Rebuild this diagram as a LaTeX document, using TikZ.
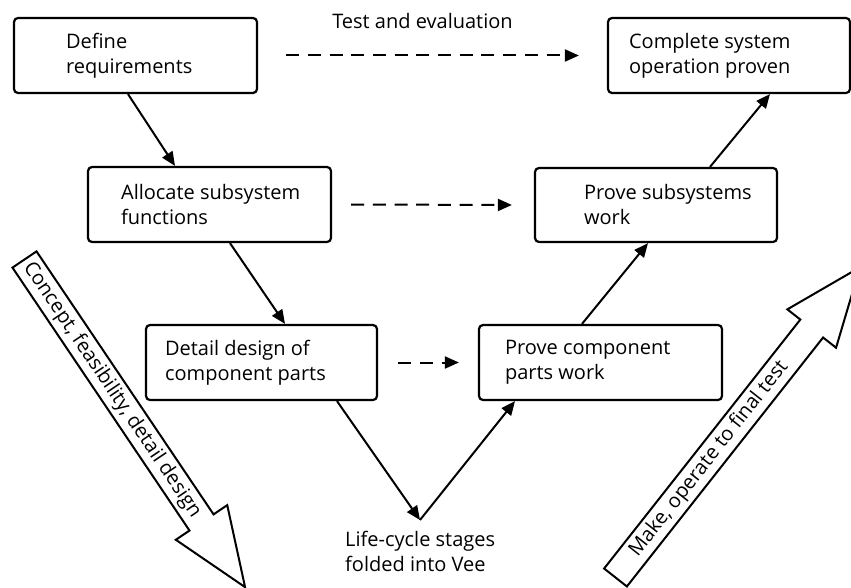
\documentclass[tikz,border=0pt]{standalone}
\usepackage{fontspec}
\setmainfont{Open Sans}
\usetikzlibrary{arrows.meta,calc}

\tikzset{
  stage/.style={draw, line width=2.2pt, rounded corners=4pt, inner sep=0pt},
  label text/.style={align=left, inner sep=0pt, font=\fontsize{20}{25}\selectfont},
  flow/.style={line width=2pt, -{Triangle[length=14pt,width=12pt]}},
  check/.style={flow, dash pattern=on 13pt off 8.7pt},
  block arrow/.style={draw, line width=2pt, line join=miter, fill=white},
}

\begin{document}
\begin{tikzpicture}[x=1pt, y=-1pt]
  \path[use as bounding box] (0,0) rectangle (851,588);
  \clip (0,0) rectangle (851,588);

  % stage boxes
  \node[stage, minimum width=243pt, minimum height=75pt] (def)    at (135.5,55.5) {};
  \node[stage, minimum width=242pt, minimum height=75pt] (comp)   at (729,55.5)   {};
  \node[stage, minimum width=243pt, minimum height=75pt] (alloc)  at (209.5,204.5) {};
  \node[stage, minimum width=242pt, minimum height=74pt] (psub)   at (656,205)    {};
  \node[stage, minimum width=231pt, minimum height=75pt] (detail) at (261.5,362.5) {};
  \node[stage, minimum width=243pt, minimum height=75pt] (pcomp)  at (600.5,362.5) {};

  % box texts
  \node[label text, anchor=west] (defT)    at ([xshift=53pt]def.west)    {Define\\requirements};
  \node[label text, anchor=west] (compT)   at ([xshift=22pt]comp.west)   {Complete system\\operation proven};
  \node[label text, anchor=west] (allocT)  at ([xshift=34pt]alloc.west)  {Allocate subsystem\\functions};
  \node[label text, anchor=west] (psubT)   at ([xshift=50pt]psub.west)   {Prove subsystems\\work};
  \node[label text, anchor=west] (detailT) at ([xshift=20pt]detail.west) {Detail design of\\component parts};
  \node[label text, anchor=west] (pcompT)  at ([xshift=27pt]pcomp.west)  {Prove component\\parts work};

  % bottom of the Vee
  \coordinate (vee) at (420,520);
  \node[label text, anchor=west] (veeT) at (345,551) {Life-cycle stages\\folded into Vee};

  % decomposition and integration flow
  \draw[flow] ([xshift=-7.5pt]def.south)    -- ([xshift=-34.5pt]alloc.north);
  \draw[flow] ([xshift=20.5pt]alloc.south)  -- ([xshift=23.5pt]detail.north);
  \draw[flow] ([xshift=75.5pt]detail.south) -- (vee);
  \draw[flow] (vee) -- ([xshift=-85.5pt]pcomp.south);
  \draw[flow] ([xshift=-18.5pt]pcomp.north) -- ([xshift=-8pt]psub.south);
  \draw[flow] ([xshift=54pt]psub.north)     -- ([xshift=41pt]comp.south);

  % verification links
  \draw[check] ([xshift=28pt]def.east)    -- ([xshift=-28pt]comp.west);
  \draw[check] ([xshift=19pt]alloc.east)  -- ([xshift=-22pt]psub.west);
  \draw[check] ([xshift=20pt]detail.east) -- ([xshift=-19pt]pcomp.west);
  \node[label text] (teT) at (422.5,21) {Test and evaluation};

  % left block arrow: design phases
  \begin{scope}[shift={(24.5,259.5)}, rotate=-56.05]
    \draw[block arrow] (0,14.5) -- (317,14.5) -- (317,31) -- (395,0)
      -- (317,-31) -- (317,-14.5) -- (0,-14.5) -- cycle;
  \end{scope}
  \node[label text, rotate=-56.05] (downT) at (112,390) {Concept, feasibility, detail design};

  % right block arrow: build and test phases
  \begin{scope}[shift={(615.5,577.5)}, rotate=51.76]
    \draw[block arrow] (0,14.5) -- (317,14.5) -- (317,31) -- (395,0)
      -- (317,-31) -- (317,-14.5) -- (0,-14.5) -- cycle;
  \end{scope}
  \node[label text, rotate=51.76] (upT) at (709,459) {Make, operate to final test};
\end{tikzpicture}
\end{document}
